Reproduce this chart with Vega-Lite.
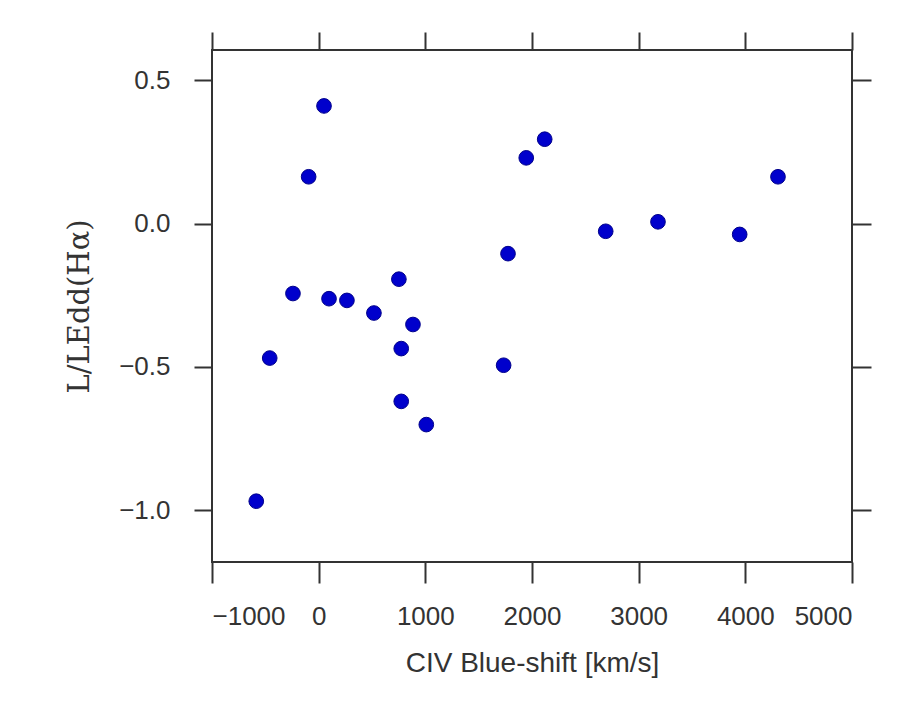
{
  "$schema": "https://vega.github.io/schema/vega-lite/v6.json",
  "width": 640,
  "height": 512,
  "autosize": {"type": "none"},
  "padding": {"left": 212, "top": 50, "right": 56, "bottom": 154},
  "background": "#ffffff",
  "config": {
    "view": {"stroke": "#333333", "strokeWidth": 2},
    "axis": {
      "domain": false,
      "grid": false,
      "tickColor": "#333333",
      "tickWidth": 2,
      "labelColor": "#333333",
      "labelFont": "Liberation Sans",
      "labelFontSize": 26,
      "titleColor": "#333333",
      "titleFontWeight": "normal"
    },
    "axisX": {"tickSize": 21},
    "axisY": {"tickSize": 18}
  },
  "data": {
    "values": [
      {"shift": 50, "ledd": 0.41},
      {"shift": -94, "ledd": 0.163},
      {"shift": -241, "ledd": -0.244},
      {"shift": 97, "ledd": -0.262},
      {"shift": 265, "ledd": -0.268},
      {"shift": 752, "ledd": -0.194},
      {"shift": 518, "ledd": -0.312},
      {"shift": 884, "ledd": -0.352},
      {"shift": 774, "ledd": -0.436},
      {"shift": -459, "ledd": -0.469},
      {"shift": 774, "ledd": -0.62},
      {"shift": 1009, "ledd": -0.701},
      {"shift": -585, "ledd": -0.968},
      {"shift": 2119, "ledd": 0.294},
      {"shift": 1946, "ledd": 0.229},
      {"shift": 4306, "ledd": 0.163},
      {"shift": 3181, "ledd": 0.006},
      {"shift": 2691, "ledd": -0.027},
      {"shift": 3947, "ledd": -0.038},
      {"shift": 1775, "ledd": -0.105},
      {"shift": 1734, "ledd": -0.494}
    ]
  },
  "layer": [
    {
      "mark": {"type": "point", "shape": "circle", "filled": true, "size": 215, "color": "#0000cc", "stroke": "#00008b", "strokeWidth": 1, "opacity": 1},
      "encoding": {
        "x": {
          "field": "shift", "type": "quantitative",
          "scale": {"domain": [-1000, 5000], "nice": false, "zero": false},
          "axis": {
            "orient": "bottom",
            "values": [-1000, 0, 1000, 2000, 3000, 4000, 5000],
            "labelExpr": "replace(format(datum.value, 'd'), '-', '\u2212')",
            "labelPadding": 20,
            "title": "CIV Blue-shift [km/s]",
            "titleFont": "Liberation Sans",
            "titleFontSize": 28,
            "titlePadding": 20
          }
        },
        "y": {
          "field": "ledd", "type": "quantitative",
          "scale": {"domain": [-1.18, 0.605], "nice": false, "zero": false},
          "axis": {
            "orient": "left",
            "values": [0.5, 0.0, -0.5, -1.0],
            "labelExpr": "replace(format(datum.value, '.1f'), '-', '\u2212')",
            "labelPadding": 24,
            "title": "L/LEdd(Hα)",
            "titleFont": "DejaVu Serif",
            "titleFontSize": 29,
            "titlePadding": 24
          }
        }
      }
    },
    {
      "mark": {"type": "point", "opacity": 0},
      "encoding": {
        "x": {
          "field": "shift", "type": "quantitative",
          "axis": {"orient": "top", "values": [-1000, 0, 1000, 2000, 3000, 4000, 5000], "labels": false, "title": null, "tickSize": 18}
        },
        "y": {
          "field": "ledd", "type": "quantitative",
          "axis": {"orient": "right", "values": [0.5, 0.0, -0.5, -1.0], "labels": false, "title": null, "tickSize": 19}
        }
      }
    }
  ],
  "resolve": {"axis": {"x": "independent", "y": "independent"}}
}
